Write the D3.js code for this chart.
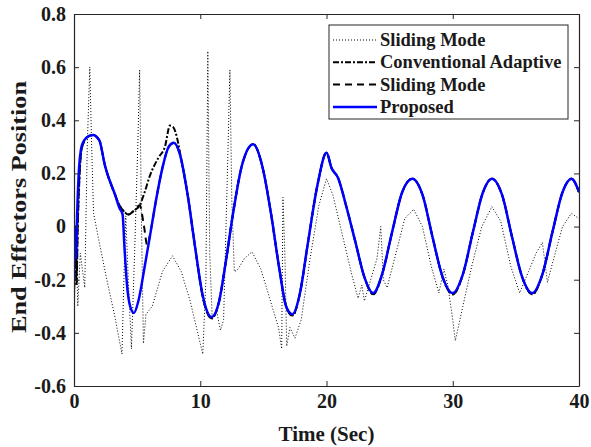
<!DOCTYPE html>
<html><head><meta charset="utf-8">
<script src="https://cdn.jsdelivr.net/npm/d3@7"></script>
<style>
html,body{margin:0;padding:0;background:#fff;}
svg{display:block;font-family:"Liberation Serif","Times New Roman",serif;font-weight:bold;}
</style></head>
<body>
<svg id="chart" width="591" height="447"></svg>
<script>
// ---- data ----
const xTicks = [0, 10, 20, 30, 40];
const yTicks = [-0.6, -0.4, -0.2, 0, 0.2, 0.4, 0.6, 0.8];
const yTickLabels = ["-0.6", "-0.4", "-0.2", "0", "0.2", "0.4", "0.6", "0.8"];
const seriesNames = ["Sliding Mode", "Conventional Adaptive", "Sliding Mode", "Proposed"];

// Sliding Mode (dotted)
const smDotT = [0,0.15,0.3,0.5,0.85,1.05,1.25,1.4,1.55,2.0,2.6,3.2,3.8,3.95,4.1,4.3,4.55,4.8,5.05,5.2,5.35,5.5,5.7,6.2,7.0,7.8,8.5,9.2,9.8,10.2,10.45,10.6,10.75,10.95,11.3,11.6,11.85,12.15,12.35,12.5,12.7,13.0,13.5,14.1,14.8,15.5,16.2,16.45,16.55,16.7,16.85,17.1,17.5,18.0,18.7,19.4,20.0,20.5,21.2,22.0,22.5,22.8,23.0,23.5,24.0,24.3,24.5,24.8,25.5,26.2,26.9,27.6,28.3,28.9,29.3,29.6,30.0,30.2,30.8,31.5,32.3,33.1,33.8,34.6,35.3,36.0,36.6,37.1,37.5,38.0,38.7,39.4,40.0];
const smDotV = [-0.36,0.0,-0.3,-0.1,-0.23,0.3,0.6,0.3,0.05,-0.06,-0.2,-0.33,-0.48,-0.2,0.04,-0.2,-0.46,-0.1,0.3,0.59,0.0,-0.44,-0.33,-0.3,-0.17,-0.11,-0.17,-0.28,-0.4,-0.48,-0.2,0.66,-0.1,-0.35,-0.32,-0.39,-0.35,0.2,0.59,0.1,-0.17,-0.16,-0.12,-0.095,-0.16,-0.27,-0.38,-0.46,0.11,-0.1,-0.45,-0.38,-0.42,-0.35,-0.12,0.08,0.18,0.12,-0.02,-0.18,-0.27,-0.22,-0.28,-0.2,-0.12,0.0,-0.2,-0.23,-0.1,0.03,0.065,0.0,-0.15,-0.25,-0.16,-0.22,-0.35,-0.43,-0.3,-0.15,0.0,0.075,0.02,-0.15,-0.25,-0.17,-0.1,-0.06,-0.21,-0.12,0.0,0.05,0.03];

// Proposed (blue)
const propT = [0,0.08,0.15,0.25,0.4,0.55,0.75,1.0,1.5,2.0,2.45,3.25,3.6,3.85,4.0,4.2,4.45,4.75,5.1,5.6,6.0,6.5,7.0,7.5,7.9,8.4,9.0,9.6,10.2,10.9,11.5,12.0,12.6,13.3,14.2,14.9,15.6,16.3,16.8,17.3,17.9,18.5,19.3,20.0,20.4,20.9,21.6,22.3,23.0,23.7,24.4,25.2,26.0,26.8,27.6,28.4,29.2,30.0,30.8,31.6,32.4,33.1,33.9,34.7,35.5,36.3,37.1,37.9,38.7,39.4,40.0];
const propV = [-0.2,0.0,-0.12,0.05,0.22,0.29,0.32,0.335,0.345,0.325,0.23,0.12,0.07,0.045,-0.08,-0.22,-0.3,-0.325,-0.28,-0.15,-0.04,0.1,0.22,0.3,0.315,0.27,0.12,-0.08,-0.26,-0.34,-0.28,-0.14,0.05,0.23,0.31,0.23,0.05,-0.17,-0.3,-0.33,-0.25,-0.07,0.16,0.278,0.22,0.185,0.07,-0.06,-0.19,-0.25,-0.18,-0.02,0.13,0.18,0.12,-0.04,-0.19,-0.25,-0.18,-0.02,0.13,0.18,0.12,-0.04,-0.19,-0.25,-0.18,-0.02,0.13,0.18,0.13];

// Conventional Adaptive (dash-dot)
const caT = [0,0.1,0.2,0.3,0.45,0.6,0.8,1.0,1.5,2.0,2.45,3.25,3.6,4.0,4.3,4.75,5.2,5.6,6.0,6.7,7.2,7.6,7.85,8.25,8.5,9.0,9.6,10.2,10.9,11.5,12.0,12.6,13.3,14.2,14.9,15.6,16.3,16.8,17.3,17.9,18.5,19.3,20.0,20.4,20.9,21.6,22.3,23.0,23.7,24.4,25.2,26.0,26.8,27.6,28.4,29.2,30.0,30.8,31.6,32.4,33.1,33.9,34.7,35.5,36.3,37.1,37.9,38.7,39.4,40.0];
const caV = [-0.28,-0.05,-0.22,0.0,0.2,0.29,0.32,0.335,0.345,0.325,0.23,0.12,0.08,0.055,0.045,0.06,0.08,0.13,0.19,0.26,0.3,0.38,0.375,0.315,0.25,0.12,-0.08,-0.265,-0.345,-0.28,-0.14,0.05,0.23,0.31,0.23,0.05,-0.17,-0.3,-0.335,-0.25,-0.07,0.16,0.278,0.22,0.185,0.07,-0.06,-0.19,-0.255,-0.18,-0.02,0.13,0.18,0.12,-0.04,-0.19,-0.255,-0.18,-0.02,0.13,0.18,0.12,-0.04,-0.19,-0.255,-0.18,-0.02,0.13,0.18,0.13];

// Sliding Mode (dashed)
const smDashT = [0,0.1,0.2,0.3,0.45,0.6,0.8,1.0,1.5,2.0,2.45,3.25,3.6,4.0,4.3,4.75,5.2,5.55,5.8,6.1,6.5,7.0,7.5,7.9,8.4,9.0,9.6,10.2,10.9,11.5,12.0,12.6,13.3,14.2,14.9,15.6,16.3,16.8,17.3,17.9,18.5,19.3,20.0,20.4,20.9,21.6,22.3,23.0,23.7,24.4,25.2,26.0,26.8,27.6,28.4,29.2,30.0,30.8,31.6,32.4,33.1,33.9,34.7,35.5,36.3,37.1,37.9,38.7,39.4,40.0];
const smDashV = [-0.24,-0.02,-0.18,0.02,0.21,0.29,0.32,0.335,0.345,0.325,0.23,0.12,0.08,0.055,0.045,0.06,0.08,0.0,-0.07,-0.01,0.1,0.22,0.3,0.315,0.27,0.12,-0.08,-0.265,-0.345,-0.28,-0.14,0.05,0.23,0.31,0.23,0.05,-0.17,-0.3,-0.335,-0.25,-0.07,0.16,0.278,0.22,0.185,0.07,-0.06,-0.19,-0.255,-0.18,-0.02,0.13,0.18,0.12,-0.04,-0.19,-0.255,-0.18,-0.02,0.13,0.18,0.12,-0.04,-0.19,-0.255,-0.18,-0.02,0.13,0.18,0.13];

// ---- drawing ----
const W = 591, H = 447;
const m = {left: 74, right: 12, top: 14, bottom: 61};
const iw = W - m.left - m.right, ih = H - m.top - m.bottom;
const axisCol = "#262626";

const svg = d3.select("#chart");
const g = svg.append("g").attr("transform", `translate(${m.left},${m.top})`);

const x = d3.scaleLinear().domain([0, 40]).range([0, iw]);
const y = d3.scaleLinear().domain([-0.6, 0.8]).range([ih, 0]);

g.append("defs").append("clipPath").attr("id", "clip")
  .append("rect").attr("width", iw).attr("height", ih);

const zip = (T, V) => T.map((t, i) => [t, V[i]]);
const lineLin = d3.line().x(d => x(d[0])).y(d => y(d[1]));
const lineSmooth = d3.line().x(d => x(d[0])).y(d => y(d[1])).curve(d3.curveMonotoneX);

const plot = g.append("g").attr("clip-path", "url(#clip)");

const styles = [
  {stroke: "#000", width: 1, dash: "1,2"},
  {stroke: "#000", width: 2, dash: "6,2,2,2"},
  {stroke: "#000", width: 2, dash: "7,5"},
  {stroke: "#0000ff", width: 2.5, dash: null}
];

plot.append("path").attr("d", lineLin(zip(smDotT, smDotV)))
  .attr("fill", "none").attr("stroke", styles[0].stroke).attr("stroke-width", styles[0].width)
  .attr("stroke-dasharray", styles[0].dash);
plot.append("path").attr("d", lineSmooth(zip(caT, caV)))
  .attr("fill", "none").attr("stroke", styles[1].stroke).attr("stroke-width", styles[1].width)
  .attr("stroke-dasharray", styles[1].dash);
plot.append("path").attr("d", lineSmooth(zip(smDashT, smDashV)))
  .attr("fill", "none").attr("stroke", styles[2].stroke).attr("stroke-width", styles[2].width)
  .attr("stroke-dasharray", styles[2].dash);
plot.append("path").attr("d", lineSmooth(zip(propT, propV)))
  .attr("fill", "none").attr("stroke", styles[3].stroke).attr("stroke-width", styles[3].width);

// axes
const fmtY = v => yTickLabels[yTicks.indexOf(v)];
const styleAxis = sel => {
  sel.selectAll("path").attr("stroke", axisCol);
  sel.selectAll("line").attr("stroke", axisCol);
  sel.selectAll("text").attr("fill", "#1a1a1a").style("font-family", '"Liberation Serif",serif')
    .style("font-weight", "bold").style("font-size", "20px");
};
g.append("g").attr("transform", `translate(0,${ih})`)
  .call(d3.axisBottom(x).tickValues(xTicks).tickFormat(d3.format("d")).tickSizeInner(-5).tickSizeOuter(0).tickPadding(8))
  .call(styleAxis);
g.append("g")
  .call(d3.axisLeft(y).tickValues(yTicks).tickFormat(fmtY).tickSizeInner(-5).tickSizeOuter(0).tickPadding(8))
  .call(styleAxis);
g.append("g")
  .call(d3.axisTop(x).tickValues(xTicks).tickFormat("").tickSizeInner(-5).tickSizeOuter(0))
  .call(styleAxis);
g.append("g").attr("transform", `translate(${iw},0)`)
  .call(d3.axisRight(y).tickValues(yTicks).tickFormat("").tickSizeInner(-5).tickSizeOuter(0))
  .call(styleAxis);
g.selectAll(".domain").attr("stroke-width", 1.2);

// axis titles
svg.append("text").attr("x", m.left + iw / 2).attr("y", 441).attr("text-anchor", "middle")
  .style("font-size", "21px").attr("fill", "#1a1a1a").text("Time (Sec)");
svg.append("text").attr("transform", `translate(26,207) rotate(-90)`)
  .attr("text-anchor", "middle").style("font-size", "22px").attr("fill", "#1a1a1a")
  .attr("textLength", 252).attr("lengthAdjust", "spacingAndGlyphs")
  .text("End Effectors Position");

// legend
const lg = svg.append("g").attr("transform", "translate(329,25)");
lg.append("rect").attr("width", 239).attr("height", 94).attr("fill", "#fff")
  .attr("stroke", axisCol).attr("stroke-width", 1);
seriesNames.forEach((name, i) => {
  const cy = 15 + i * 22.3;
  lg.append("line").attr("x1", 4).attr("x2", 48).attr("y1", cy).attr("y2", cy)
    .attr("stroke", styles[i].stroke).attr("stroke-width", styles[i].width)
    .attr("stroke-dasharray", styles[i].dash);
  lg.append("text").attr("x", 51).attr("y", cy + 6).style("font-size", "18.5px")
    .attr("fill", "#1a1a1a").text(name);
});
</script>
</body></html>
